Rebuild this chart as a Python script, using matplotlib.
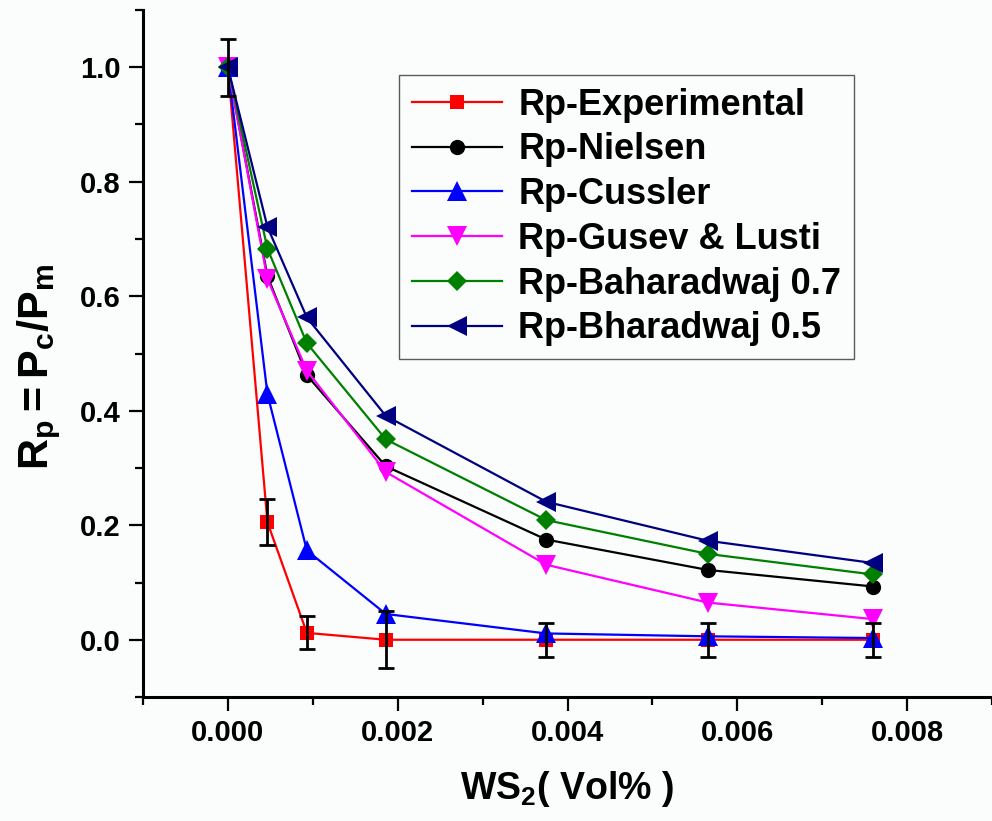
import matplotlib
matplotlib.use("Agg")
import matplotlib.pyplot as plt
from matplotlib.ticker import MultipleLocator, FormatStrFormatter

# WS2 volume fraction and relative permeability Rp = Pc/Pm
x_vol = [0.0, 0.000466, 0.00093, 0.00186, 0.00375, 0.00565, 0.0076]
rp_experimental = [1.0, 0.205, 0.012, 0.0, 0.0, 0.0, 0.0]
rp_experimental_err = [0.05, 0.04, 0.029, 0.05, 0.03, 0.03, 0.03]
rp_nielsen = [1.0, 0.635, 0.462, 0.303, 0.175, 0.122, 0.093]
rp_cussler = [1.0, 0.429, 0.156, 0.045, 0.011, 0.006, 0.003]
rp_gusev_lusti = [1.0, 0.630, 0.470, 0.293, 0.131, 0.065, 0.036]
rp_bharadwaj_07 = [1.0, 0.683, 0.518, 0.350, 0.209, 0.150, 0.114]
rp_bharadwaj_05 = [1.0, 0.721, 0.563, 0.391, 0.241, 0.173, 0.134]

series_labels = ["Rp-Experimental", "Rp-Nielsen", "Rp-Cussler",
                 "Rp-Gusev & Lusti", "Rp-Baharadwaj 0.7", "Rp-Bharadwaj 0.5"]
x_ticks = [0.000, 0.002, 0.004, 0.006, 0.008]
y_ticks = [0.0, 0.2, 0.4, 0.6, 0.8, 1.0]

plt.rcParams["font.family"] = ["Liberation Sans", "DejaVu Sans"]
plt.rcParams["font.weight"] = "bold"
plt.rcParams["mathtext.fontset"] = "custom"
plt.rcParams["mathtext.rm"] = "Liberation Sans:bold"
plt.rcParams["mathtext.it"] = "Liberation Sans:bold"
plt.rcParams["mathtext.bf"] = "Liberation Sans:bold"

bg = "#fbfcfc"
fig = plt.figure(figsize=(9.92, 8.21), dpi=100, facecolor=bg)
ax = fig.add_axes([143 / 992, 1 - 697 / 821, 1 - 143 / 992, (697 - 10) / 821])
ax.set_facecolor(bg)

styles = [
    (rp_experimental, "#ff0000", "s", 10.5),
    (rp_nielsen, "#000000", "o", 11),
    (rp_cussler, "#0000ff", "^", 14),
    (rp_gusev_lusti, "#ff00ff", "v", 14),
    (rp_bharadwaj_07, "#008000", "D", 10.5),
    (rp_bharadwaj_05, "#000080", "<", 14),
]
for i, ((vals, col, mk, ms), lab) in enumerate(zip(styles, series_labels)):
    ax.plot(x_vol, vals, color=col, marker=mk, markersize=ms, lw=1.6,
            markeredgewidth=0, label=lab, zorder=2 + i, clip_on=False)

ax.errorbar(x_vol, rp_experimental, yerr=rp_experimental_err, fmt="none",
            ecolor="black", elinewidth=2.0, capsize=5.5, capthick=2.0,
            zorder=20, clip_on=False)

ax.set_xlim(-0.001, 0.009)
ax.set_ylim(-0.1, 1.1)
ax.set_xticks(x_ticks)
ax.set_yticks(y_ticks)
ax.xaxis.set_minor_locator(MultipleLocator(0.001))
ax.yaxis.set_minor_locator(MultipleLocator(0.1))
ax.xaxis.set_major_formatter(FormatStrFormatter("%.3f"))
ax.yaxis.set_major_formatter(FormatStrFormatter("%.1f"))

for side in ("top", "right"):
    ax.spines[side].set_visible(False)
for side in ("left", "bottom"):
    ax.spines[side].set_linewidth(2.2)

ax.tick_params(which="major", direction="out", length=10, width=1.6,
               labelsize=21, pad=6)
ax.tick_params(which="minor", direction="out", length=6, width=1.6)
for t in ax.get_xticklabels() + ax.get_yticklabels():
    t.set_fontweight("bold")

ax.set_xlabel(r"WS$\mathregular{_2}$( Vol% )", fontsize=27,
              fontweight="bold", labelpad=16)
ax.set_ylabel(r"$\mathregular{R_p{=}P_c/P_m}$", fontsize=31,
              fontweight="bold", labelpad=12)
ax.yaxis.label.set_y(0.48)

leg = ax.legend(loc="upper left", bbox_to_anchor=(0.3015, 0.9054),
                borderaxespad=0, fancybox=False, frameon=True,
                prop={"size": 26, "weight": "bold"},
                handlelength=2.5, handletextpad=0.45, labelspacing=0.27,
                borderpad=0.35)
leg.get_frame().set_edgecolor("#333333")
leg.get_frame().set_linewidth(1.0)
leg.get_frame().set_facecolor(bg)

fig.savefig("out.png", dpi=100, facecolor=bg)
